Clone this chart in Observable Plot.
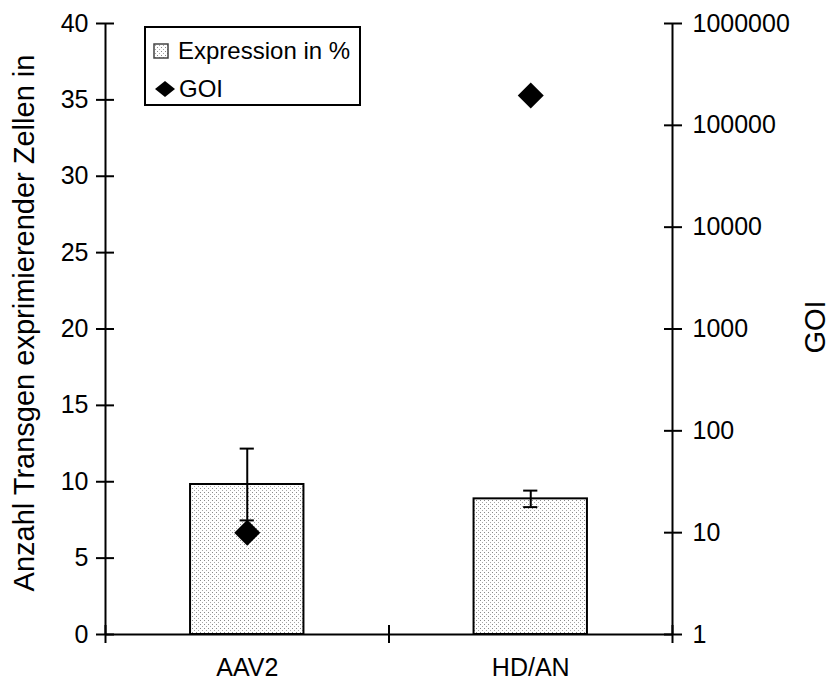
<!DOCTYPE html>
<html>
<head>
<meta charset="utf-8">
<script src="https://cdn.jsdelivr.net/npm/d3@7"></script>
<script src="https://cdn.jsdelivr.net/npm/@observablehq/plot@0.6"></script>
<style>
  html, body { margin: 0; padding: 0; background: white; }
  #wrap { position: relative; width: 830px; height: 693px; font-family: "Liberation Sans", Arial, sans-serif; }
  #legend { position: absolute; left: 144px; top: 26px; width: 213px; height: 76px; border: 2px solid black; background: white; }
  .lrow { position: absolute; left: 0; font-size: 24px; line-height: 24px; color: black; white-space: nowrap; }
</style>
</head>
<body>
<div id="wrap"></div>
<script>
// ---- data ----
const categories = ["AAV2", "HD/AN"];
const expression = [9.82, 8.88];        // Expression in % (left axis)
const expressionErr = [2.35, 0.54];     // error bar half-lengths
const goi = [10, 196000];               // GOI (right log axis)
const leftTicks = [0, 5, 10, 15, 20, 25, 30, 35, 40];
const rightTickValues = [1, 10, 100, 1000, 10000, 100000, 1000000];
const rightTickLabels = ["1", "10", "100", "1000", "10000", "100000", "1000000"];
const yTitle = "Anzahl Transgen exprimierender Zellen in";
const y2Title = "GOI";
const legendLabels = ["Expression in %", "GOI"];

// ---- helpers ----
const rows = categories.map((c, i) => ({cat: c, i, expr: expression[i], err: expressionErr[i], goi: goi[i]}));
// right log axis mapped onto the left linear domain
const goiScale = d3.scaleLog().domain([1, 1000000]).range([0, 40]);
const rightTickPos = rightTickValues.map(v => goiScale(v));
const capHalf = 0.025;
const caps = rows.flatMap(d => [
  {i: d.i, y: d.expr - d.err},
  {i: d.i, y: d.expr + d.err}
]);

const defs = () => {
  const g = d3.create("svg:defs");
  const p = g.append("pattern").attr("id", "dots").attr("width", 4).attr("height", 4).attr("patternUnits", "userSpaceOnUse");
  p.append("rect").attr("width", 4).attr("height", 4).attr("fill", "white");
  p.append("rect").attr("x", 0).attr("y", 0).attr("width", 1).attr("height", 1).attr("fill", "#8a8a8a");
  p.append("rect").attr("x", 2).attr("y", 2).attr("width", 1).attr("height", 1).attr("fill", "#a8a8a8");
  return g.node();
};

const chart = Plot.plot({
  width: 830,
  height: 693,
  marginLeft: 105,
  marginRight: 158,
  marginTop: 23,
  marginBottom: 59,
  x: {domain: [0, categories.length], axis: null},
  y: {domain: [0, 40], axis: null},
  style: {fontFamily: "'Liberation Sans', Arial, sans-serif", color: "black", background: "white"},
  marks: [
    defs,
    Plot.rectY(rows, {x1: d => d.i + 0.3, x2: d => d.i + 0.7, y1: 0, y2: d => d.expr, fill: "url(#dots)", stroke: "black", strokeWidth: 2}),
    Plot.ruleX(rows, {x: d => d.i + 0.5, y1: d => d.expr - d.err, y2: d => d.expr + d.err, stroke: "black", strokeWidth: 2}),
    Plot.ruleY(caps, {y: "y", x1: d => d.i + 0.5 - capHalf, x2: d => d.i + 0.5 + capHalf, stroke: "black", strokeWidth: 2}),
    Plot.dot(rows, {x: d => d.i + 0.5, y: d => goiScale(d.goi), symbol: "diamond2", r: 11.7, fill: "black", stroke: "none"}),
    // axis lines
    Plot.ruleX([0, categories.length], {stroke: "black", strokeWidth: 2}),
    Plot.ruleY([0], {stroke: "black", strokeWidth: 2}),
    // left axis
    Plot.axisY({ticks: leftTicks, anchor: "left", tickSize: 18, dx: 9, tickFormat: () => "", strokeWidth: 2, label: null}),
    Plot.axisY({ticks: leftTicks, anchor: "left", tickSize: 0, tickPadding: 17, fontSize: 25, label: null}),
    // right axis
    Plot.axisY({ticks: rightTickPos, anchor: "right", tickSize: 18, dx: -9, tickFormat: () => "", strokeWidth: 2, label: null}),
    Plot.axisY({ticks: rightTickPos, anchor: "right", tickSize: 0, tickPadding: 20, fontSize: 25, label: null,
      tickFormat: d => rightTickLabels[rightTickPos.indexOf(d)]}),
    // bottom axis: boundary ticks + category labels
    Plot.axisX({ticks: d3.range(categories.length + 1), anchor: "bottom", tickSize: 18, dy: -9, tickFormat: () => "", strokeWidth: 2, label: null}),
    Plot.axisX({ticks: categories.map((c, i) => i + 0.5), anchor: "bottom", tickSize: 0, tickPadding: 24, fontSize: 25, label: null,
      tickFormat: d => categories[Math.floor(d)]}),
    // axis titles
    Plot.text([yTitle], {text: d => d, frameAnchor: "left", textAnchor: "middle", lineAnchor: "middle", dx: -81, dy: -6, rotate: -90, fontSize: 29, fill: "black"}),
    Plot.text([y2Title], {text: d => d, frameAnchor: "right", textAnchor: "middle", lineAnchor: "middle", dx: 143, dy: -2, rotate: -90, fontSize: 29, fill: "black"})
  ]
});

const wrap = document.getElementById("wrap");
wrap.appendChild(chart);

// legend (inside plot area, top-left)
const legend = document.createElement("div");
legend.id = "legend";
legend.innerHTML = `
  <div class="lrow" style="top:11px;left:7px;display:flex;align-items:center;">
    <svg width="16" height="16" style="margin-right:9px"><rect x="1" y="1" width="14" height="14" fill="url(#dots)" stroke="#444" stroke-width="1.5"/></svg>
    <span>${legendLabels[0]}</span>
  </div>
  <div class="lrow" style="top:49px;left:8px;display:flex;align-items:center;">
    <svg width="22" height="18" style="margin-right:3px"><polygon points="11,1 21,9 11,17 1,9" fill="black"/></svg>
    <span>${legendLabels[1]}</span>
  </div>`;
wrap.appendChild(legend);
</script>
</body>
</html>
